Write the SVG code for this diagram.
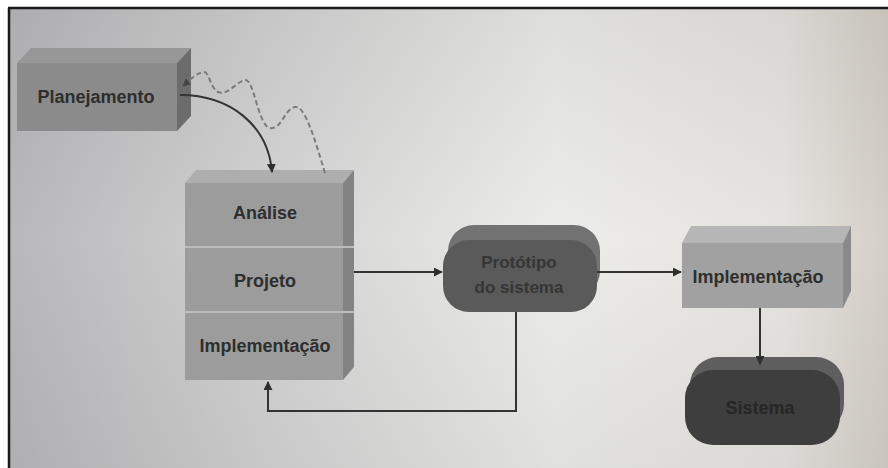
<svg xmlns="http://www.w3.org/2000/svg" width="888" height="468" viewBox="0 0 888 468">
  <defs>
    <linearGradient id="bgH" x1="0" y1="0" x2="1" y2="0">
      <stop offset="0" stop-color="#b8b7ba"/>
      <stop offset="0.3" stop-color="#d3d3d3"/>
      <stop offset="0.62" stop-color="#ececea"/>
      <stop offset="0.88" stop-color="#e6e4e0"/>
      <stop offset="1" stop-color="#d4cfc6"/>
    </linearGradient>
    <linearGradient id="bgV" x1="0" y1="0" x2="0" y2="1">
      <stop offset="0" stop-color="#000" stop-opacity="0.06"/>
      <stop offset="0.5" stop-color="#000" stop-opacity="0"/>
      <stop offset="1" stop-color="#000" stop-opacity="0.05"/>
    </linearGradient>
    <marker id="arr" viewBox="0 0 10 10" refX="9" refY="5" markerWidth="4.5" markerHeight="4.5" orient="auto-start-reverse" markerUnits="strokeWidth">
      <path d="M0,0 L10,5 L0,10 z" fill="#2e2e2e"/>
    </marker>
    <marker id="arrD" viewBox="0 0 10 10" refX="9" refY="5" markerWidth="4" markerHeight="4" orient="auto" markerUnits="strokeWidth">
      <path d="M0,0 L10,5 L0,10 z" fill="#444"/>
    </marker>
  </defs>
  <style>
    .lbl { font-family: "Liberation Sans", Arial, sans-serif; font-weight: bold; font-size: 18px; text-anchor: middle; dominant-baseline: central; fill: #2e2e2e; }
    .lbl.sm { font-size: 17px; fill: #353535; }
    .lbl.dk { fill: #262626; }
    .conn { fill: none; stroke: #333; stroke-width: 2; }
    .dash { fill: none; stroke: #7a7a7a; stroke-width: 2; stroke-dasharray: 5 3; }
  </style>

  <!-- background -->
  <rect x="0" y="0" width="888" height="468" fill="#ffffff"/>
  <rect x="9" y="9" width="879" height="459" fill="url(#bgH)"/>
  <rect x="9" y="9" width="879" height="459" fill="url(#bgV)"/>
  <line x1="8" y1="8" x2="888" y2="8" stroke="#1a1a1a" stroke-width="2.5"/>
  <line x1="9" y1="8" x2="9" y2="468" stroke="#1a1a1a" stroke-width="2.5"/>

  <!-- Planejamento -->
  <g id="planejamento">
    <polygon points="17,63 31,48 191,48 177,63" fill="#979797"/>
    <polygon points="177,63 191,48 191,116 177,131" fill="#6c6c6c"/>
    <rect x="17" y="63" width="160" height="68" fill="#8b8b8b"/>
    <text class="lbl" x="96" y="97">Planejamento</text>
  </g>

  <!-- Stack: Analise / Projeto / Implementacao -->
  <g id="etapas">
    <polygon points="185,183 196,170 354,170 343,183" fill="#aeaeae"/>
    <polygon points="343,183 354,170 354,367 343,380" fill="#838383"/>
    <rect x="185" y="183" width="158" height="197" fill="#9c9c9c"/>
    <line x1="185" y1="247" x2="354" y2="247" stroke="#bcbcbc" stroke-width="2"/>
    <line x1="185" y1="312" x2="354" y2="312" stroke="#bcbcbc" stroke-width="2"/>
    <text class="lbl" x="265" y="213">Análise</text>
    <text class="lbl" x="265" y="281">Projeto</text>
    <text class="lbl" x="265" y="346">Implementação</text>
  </g>

  <!-- Prototipo do sistema -->
  <g id="prototipo">
    <rect x="448" y="225" width="152" height="72" rx="26" fill="#727272"/>
    <rect x="443" y="240" width="154" height="72" rx="26" fill="#5a5a5a"/>
    <text class="lbl sm" x="519" y="262">Protótipo</text>
    <text class="lbl sm" x="519" y="287">do sistema</text>
  </g>

  <!-- Implementacao (direita) -->
  <g id="implementacao2">
    <polygon points="682,243 691,226 851,226 843,243" fill="#b6b6b6"/>
    <polygon points="843,243 851,226 851,291 843,308" fill="#8a8a8a"/>
    <rect x="682" y="243" width="161" height="65" fill="#a1a1a1"/>
    <text class="lbl" x="758" y="277">Implementação</text>
  </g>

  <!-- Sistema -->
  <g id="sistema">
    <rect x="690" y="357" width="154" height="75" rx="28" fill="#5e5e5e"/>
    <rect x="685" y="370" width="155" height="75" rx="28" fill="#3e3e3e"/>
    <text class="lbl dk" x="760" y="408">Sistema</text>
  </g>

  <!-- connectors -->
  <g id="conectores">
    <path class="conn" d="M180,95 C230,95 268,125 272,172" marker-end="url(#arr)"/>
    <path class="dash" d="M325,173 C315,140 305,105 295,107 C284,109 282,130 270,128 C258,126 254,78 245,80 C236,82 228,96 218,92 C210,88 209,70 203,72 C195,74 190,80 183,86" marker-end="url(#arrD)"/>
    <path class="conn" d="M354,272 H442" marker-end="url(#arr)"/>
    <path class="conn" d="M597,272 H681" marker-end="url(#arr)"/>
    <path class="conn" d="M760,308 V364" marker-end="url(#arr)"/>
    <path class="conn" d="M516,312 V411 H268 V382" marker-end="url(#arr)"/>
  </g>
</svg>
